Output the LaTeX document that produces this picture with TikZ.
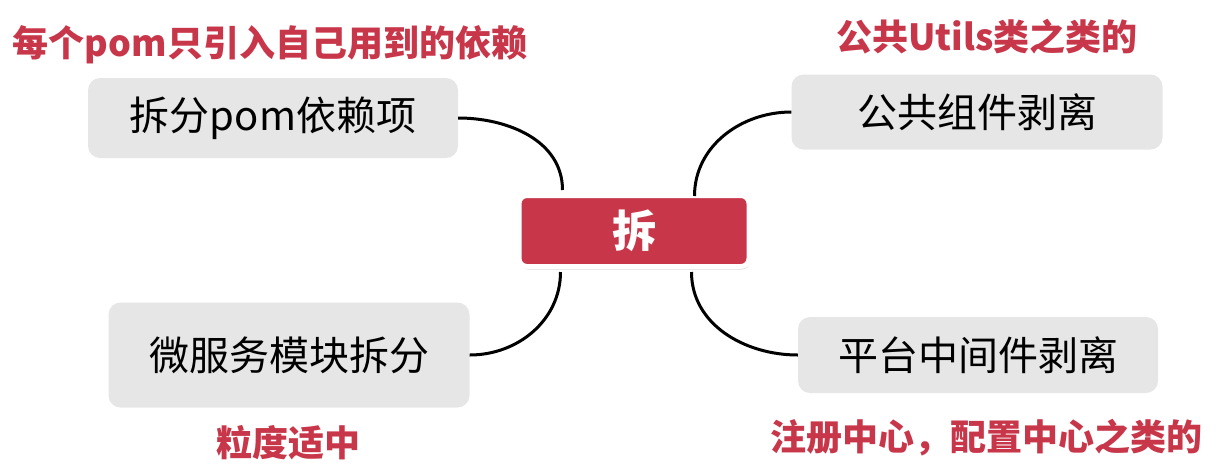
\documentclass[tikz,border=0pt]{standalone}
\usepackage{fontspec}
\setmainfont{Noto Sans CJK SC}
\usetikzlibrary{shadows}
\definecolor{splitred}{HTML}{C8364A}
\definecolor{leafgray}{HTML}{E6E6E6}

\begin{document}
\begin{tikzpicture}[x=1pt, y=-1pt,
    leaf/.style={fill=leafgray, rounded corners=12pt, inner sep=0pt,
        font=\fontsize{40}{48}\selectfont},
    hub/.style={fill=splitred, draw=white, line width=5pt, rounded corners=8pt,
        drop shadow={shadow xshift=1pt, shadow yshift=-3pt, opacity=0.3},
        text=white, inner sep=0pt, font=\fontsize{44}{52}\selectfont\bfseries},
    note/.style={text=splitred, inner sep=0pt, font=\fontsize{36}{43}\selectfont\bfseries},
    branch/.style={line width=3pt}]
    \useasboundingbox (0,0) rectangle (1219,475);

    % Central topic
    \node[hub, minimum width=230pt, minimum height=71pt] (split) at (634,231) {拆};

    % Branches
    \node[leaf, minimum width=370pt, minimum height=80pt] (pom) at (273,118) {拆分pom依赖项};
    \node[leaf, minimum width=371pt, minimum height=75pt] (common) at (977,112) {公共组件剥离};
    \node[leaf, minimum width=361pt, minimum height=105pt] (micro) at (289,355) {微服务模块拆分};
    \node[leaf, minimum width=360pt, minimum height=76pt] (platform) at (978,355) {平台中间件剥离};

    % Notes
    \node[note] (pomnote) at (270,45) {每个pom只引入自己用到的依赖};
    \node[note] (commonnote) at (987,37) {公共Utils类之类的};
    \node[note] (micronote) at (288,443) {粒度适中};
    \node[note] (platformnote) at (986,438) {注册中心，配置中心之类的};

    % Connectors
    \draw[branch] (pom.east) to[out=0, in=90] ([xshift=46pt, yshift=3pt]split.north west);
    \draw[branch] ([xshift=-57pt, yshift=-3pt]split.north east) to[out=90, in=180] (common.west);
    \draw[branch] ([xshift=44pt, yshift=-3pt]split.south west) to[out=-90, in=0] (micro.east);
    \draw[branch] ([xshift=-60pt, yshift=-3pt]split.south east) to[out=-90, in=180] (platform.west);
\end{tikzpicture}
\end{document}
